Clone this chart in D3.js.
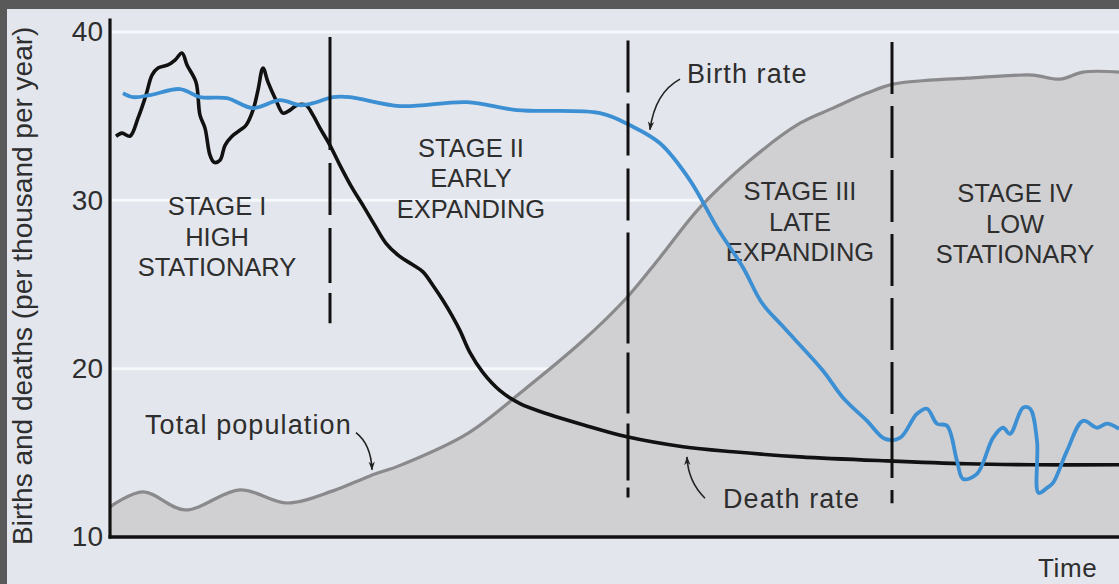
<!DOCTYPE html>
<html>
<head>
<meta charset="utf-8">
<script src="https://cdn.jsdelivr.net/npm/d3@7"></script>
<style>
  html, body { margin: 0; padding: 0; background: #595959; }
  svg { display: block; }
  text { font-family: "Liberation Sans", Arial, sans-serif; fill: #2e2e2e; }
</style>
</head>
<body>
<svg id="chart" width="1119" height="584"></svg>
<script>
// ---- data (time in arbitrary units, rates per thousand per year) ----
const yTicks = [10, 20, 30, 40];

const deathRate = [
  [4,33.81],[10,33.99],[18,33.81],[26,34.88],[34,36.25],[40,37.44],[46,37.86],[56,38.04],
  [63,38.33],[70,38.75],[75,38.04],[84,37.02],[88,35.06],[93,34.29],[98,32.68],[102,32.26],
  [108,32.38],[113,33.27],[120,33.81],[128,34.17],[134,34.46],[141,35.36],[146,36.55],
  [151,37.86],[156,37.02],[164,35.95],[171,35.18],[178,35.36],[185,35.65],[194,35.65],
  [201,35.06],[208,34.29],[218,33.27],[228,32.08],[240,30.75],[252,29.6],[263,28.5],
  [274,27.45],[287,26.7],[300,26.2],[311,25.75],[321,24.94],[331,24.05],[340,23.15],
  [348,22.26],[358,20.95],[371,19.76],[388,18.69],[408,17.92],[438,17.26],[471,16.67],
  [515,15.95],[571,15.36],[621,15.06],[688,14.76],[775,14.52],[855,14.35],[921,14.29],[1007,14.29]
];

const birthRate = [
  [11,36.37],[21,36.13],[38,36.25],[68,36.61],[88,36.13],[115,36.07],[141,35.48],[168,35.95],
  [188,35.65],[201,35.77],[221,36.13],[238,36.13],[288,35.60],[355,35.83],[405,35.36],
  [488,35.18],[518,34.46],[548,33.39],[578,31.19],[605,28.39],[631,26.01],[650,23.9],
  [671,22.5],[711,19.88],[731,18.27],[755,16.90],[773,15.83],[788,15.89],[805,17.32],
  [815,17.62],[825,16.73],[835,16.61],[845,14.52],[851,13.45],[865,13.75],[881,15.89],
  [891,16.49],[898,16.13],[911,17.68],[918,17.62],[925,15.71],[926.5,12.62],[935,12.92],
  [941,13.21],[955,15.12],[971,16.90],[985,16.49],[995,16.73],[1007,16.43]
];

const totalPopulation = [
  [-2,11.79],[31,12.68],[73,11.61],[128,12.80],[175,12.02],[221,12.74],[258,13.63],[290,14.3],
  [355,16.13],[411,18.69],[471,21.67],[515,24.23],[548,26.61],[588,29.58],[638,32.38],
  [688,34.58],[721,35.48],[755,36.37],[781,36.90],[818,37.14],[855,37.26],[888,37.38],
  [921,37.44],[948,37.20],[971,37.62],[1007,37.62]
];

const stageBoundaries = [218, 516, 780];
const stages = [
  {t: 105, lines: ["STAGE I", "HIGH", "STATIONARY"], v: 29.1},
  {t: 359, lines: ["STAGE II", "EARLY", "EXPANDING"], v: 32.6},
  {t: 688, lines: ["STAGE III", "LATE", "EXPANDING"], v: 30.0},
  {t: 903, lines: ["STAGE IV", "LOW", "STATIONARY"], v: 29.9}
];

// ---- layout ----
const W = 1119, H = 584;
const svg = d3.select("#chart");
const x = d3.scaleLinear().domain([0, 1007]).range([112, 1119]);
const y = d3.scaleLinear().domain([10, 40]).range([537, 32]);

// page background with dark border top/left
svg.append("rect").attr("x", 7).attr("y", 9).attr("width", W - 7).attr("height", H - 9)
  .attr("fill", "#e3e6ec");

// gridlines (white)
svg.append("g").selectAll("line").data([20, 30, 40]).join("line")
  .attr("x1", x(0)).attr("x2", W)
  .attr("y1", d => y(d)).attr("y2", d => y(d))
  .attr("stroke", "#f6f8fb").attr("stroke-width", 3);

// total population area
const area = d3.area().x(d => x(d[0])).y0(y(10)).y1(d => y(d[1]))
  .curve(d3.curveCatmullRom.alpha(0.5));
svg.append("path").datum(totalPopulation).attr("d", area).attr("fill", "#d0d0d3");
const line = d3.line().x(d => x(d[0])).y(d => y(d[1])).curve(d3.curveCatmullRom.alpha(0.5));
svg.append("path").datum(totalPopulation).attr("d", line)
  .attr("fill", "none").attr("stroke", "#8a8a8c").attr("stroke-width", 3.2);

// stage labels
stages.forEach(s => {
  const t = svg.append("text").attr("text-anchor", "middle")
    .attr("font-size", 25.5)
    .attr("x", x(s.t)).attr("y", y(s.v));
  s.lines.forEach((ln, i) => {
    t.append("tspan").attr("x", x(s.t)).attr("dy", i === 0 ? 0 : 30.5).text(ln);
  });
});

// death rate line
svg.append("path").datum(deathRate).attr("d", line)
  .attr("fill", "none").attr("stroke", "#111").attr("stroke-width", 3.6)
  .attr("stroke-linejoin", "round");

// birth rate line
svg.append("path").datum(birthRate).attr("d", line)
  .attr("fill", "none").attr("stroke", "#3b8fd2").attr("stroke-width", 3.8)
  .attr("stroke-linejoin", "round");

// stage boundary dashed lines
const dashSpecs = [
  {top: 39.7, bottom: 22.7, dash: "113,13,52,13,55,10,34"},
  {top: 39.5, bottom: 12.3, dash: "52,11,52,13,52,12,111,9,61,10,57,7,10"},
  {top: 39.4, bottom: 12.0, dash: "52,12"}
];
svg.append("g").selectAll("line").data(stageBoundaries).join("line")
  .attr("x1", d => x(d)).attr("x2", d => x(d))
  .attr("y1", (d, i) => y(dashSpecs[i].top)).attr("y2", (d, i) => y(dashSpecs[i].bottom))
  .attr("stroke", "#111").attr("stroke-width", 3)
  .attr("stroke-dasharray", (d, i) => dashSpecs[i].dash);

// axes
const yAxis = d3.axisLeft(y).tickValues(yTicks).tickSize(0).tickPadding(8).tickFormat(d3.format("d"));
const gy = svg.append("g").attr("transform", `translate(${x(-1)},0)`).call(yAxis);
gy.select(".domain").remove();
gy.selectAll("text").attr("font-size", 28).attr("fill", "#333")
  .style("font-family", "Liberation Sans, Arial, sans-serif");

svg.append("line").attr("x1", x(-2)).attr("x2", x(-2))
  .attr("y1", y(40.8)).attr("y2", y(10) + 1.5)
  .attr("stroke", "#111").attr("stroke-width", 3.2);
svg.append("line").attr("x1", x(-3.5)).attr("x2", W)
  .attr("y1", y(10)).attr("y2", y(10))
  .attr("stroke", "#111").attr("stroke-width", 3.4);

// axis titles
svg.append("text").attr("transform", `translate(32,${(y(10) + y(40.8)) / 2 + 8}) rotate(-90)`)
  .attr("text-anchor", "middle").attr("font-size", 28).attr("fill", "#333")
  .text("Births and deaths (per thousand per year)");
svg.append("text").attr("x", 1038).attr("y", 577).attr("font-size", 26)
  .attr("letter-spacing", 0.6).attr("fill", "#333").text("Time");

// annotations
const defs = svg.append("defs");
defs.append("marker").attr("id", "arrow").attr("viewBox", "0 0 10 10")
  .attr("refX", 9).attr("refY", 5).attr("markerWidth", 9).attr("markerHeight", 9)
  .attr("markerUnits", "userSpaceOnUse").attr("orient", "auto")
  .append("path").attr("d", "M0,1.5 L10,5 L0,8.5 L3,5 Z").attr("fill", "#222");

const annotations = [
  {text: "Birth rate", tx: 575, tv: 37.0, from: [568, 37.2], ctrl: [543, 36.4], to: [538, 34.2]},
  {text: "Total population", tx: 33, tv: 16.1, from: [244, 16.2], ctrl: [259, 15.5], to: [260, 14.0]},
  {text: "Death rate", tx: 611, tv: 11.75, from: [593, 12.3], ctrl: [576, 13.3], to: [575, 14.75]}
];
annotations.forEach(a => {
  svg.append("text").attr("x", x(a.tx)).attr("y", y(a.tv)).attr("font-size", 27)
    .attr("letter-spacing", 1.1).text(a.text);
  const p = d3.path();
  p.moveTo(x(a.from[0]), y(a.from[1]));
  p.quadraticCurveTo(x(a.ctrl[0]), y(a.ctrl[1]), x(a.to[0]), y(a.to[1]));
  svg.append("path").attr("d", p.toString()).attr("fill", "none")
    .attr("stroke", "#222").attr("stroke-width", 1.6).attr("marker-end", "url(#arrow)");
});
</script>
</body>
</html>
